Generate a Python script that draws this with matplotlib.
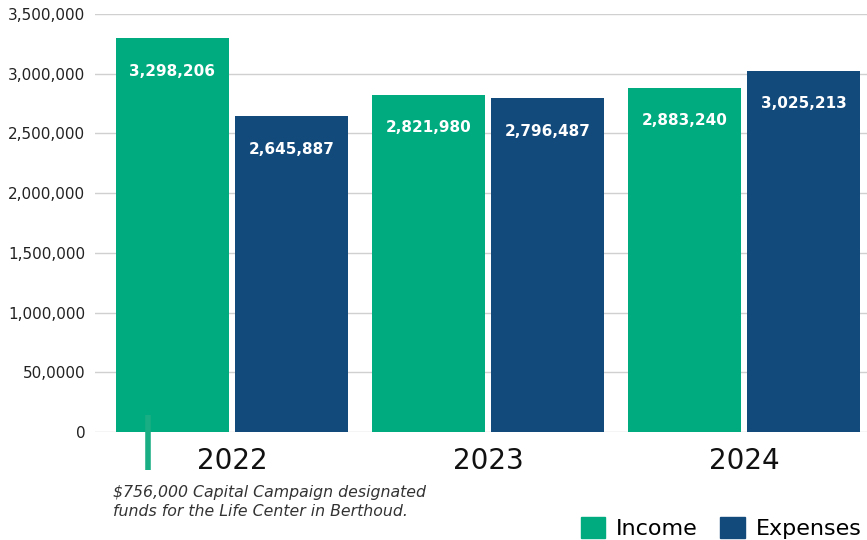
import numpy as np
import matplotlib
matplotlib.use("Agg")
import matplotlib.pyplot as plt
from matplotlib.patches import Patch

# datos del grafico
years = ["2022", "2023", "2024"]
income = [3298206, 2821980, 2883240]
expenses = [2645887, 2796487, 3025213]
ytick_values = [0, 500000, 1000000, 1500000, 2000000, 2500000, 3000000, 3500000]
ytick_labels = ["0", "50,0000", "1,000,000", "1,500,000", "2,000,000",
                "2,500,000", "3,000,000", "3,500,000"]
note = "$756,000 Capital Campaign designated\nfunds for the Life Center in Berthoud."

GREEN = "#00ab7f"
BLUE = "#134a7c"

plt.rcParams["font.family"] = ["DejaVu Sans"]

fig = plt.figure(figsize=(8.67, 5.4), dpi=100)
ax = fig.add_axes([95 / 867, 1 - 432 / 540, 1 - 95 / 867, (432 - 14) / 540])

x = np.arange(len(years))
w = 0.44
b1 = ax.bar(x - 0.233, income, width=w, color=GREEN, zorder=3)
b2 = ax.bar(x + 0.233, expenses, width=w, color=BLUE, zorder=3)

for bars, vals in [(b1, income), (b2, expenses)]:
    for r, v in zip(bars, vals):
        ax.annotate(f"{v:,}", (r.get_x() + r.get_width() / 2, v),
                    xytext=(0, -33), textcoords="offset pixels",
                    ha="center", va="center", color="white",
                    fontsize=11, fontweight="bold", zorder=4)

ax.set_xlim(-0.535, 2.48)
ax.set_ylim(0, 3500000)
ax.set_yticks(ytick_values)
ax.set_yticklabels(ytick_labels, fontsize=11, color="#222222")
ax.set_xticks(x)
ax.set_xticklabels(years, fontsize=20, color="#111111")
ax.tick_params(axis="y", length=0, pad=7)
ax.tick_params(axis="x", length=0, pad=11)
ax.grid(axis="y", color="#d0d0d0", linewidth=1, zorder=0)
ax.set_axisbelow(True)
for s in ax.spines.values():
    s.set_visible(False)

# linea verde de la nota
ax.plot([-0.328, -0.328], [142000, -318000], color="#1aae84", linewidth=4,
        solid_capstyle="butt", clip_on=False, zorder=5)

fig.text(113 / 867, 1 - 485 / 540, note, fontsize=11.3, style="italic",
         color="#333333", ha="left", va="top", linespacing=1.3)

handles = [Patch(color=GREEN, label="Income"), Patch(color=BLUE, label="Expenses")]
fig.legend(handles=handles, loc="lower right", bbox_to_anchor=(1.017, -0.035),
           ncol=2, frameon=False, fontsize=16, handlelength=1.1, handleheight=1.1,
           handletextpad=0.5, columnspacing=1.0)

fig.savefig("out.png", dpi=100)
